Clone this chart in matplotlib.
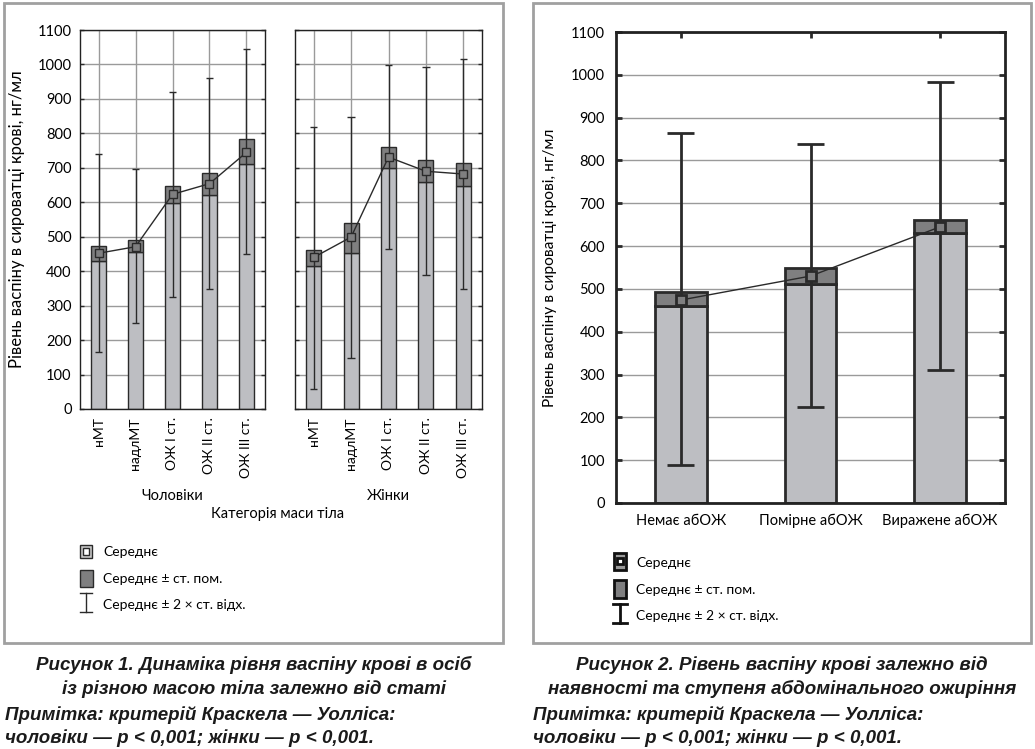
import numpy as np
import matplotlib
matplotlib.use("Agg")
import matplotlib.pyplot as plt
from matplotlib.patches import Rectangle

plt.rcParams['font.family'] = ['Lato', 'DejaVu Sans']

# ---------------- data ----------------
categories_fig1 = ["нМТ", "надлМТ", "ОЖ I ст.", "ОЖ II ст.", "ОЖ III ст."]
men_mean = [452, 471, 623, 654, 745]
men_se_lo = [431, 455, 597, 620, 710]
men_se_hi = [472, 491, 646, 684, 783]
men_sd_lo = [165, 249, 325, 348, 450]
men_sd_hi = [740, 696, 920, 960, 1044]

women_mean = [440, 499, 731, 690, 682]
women_se_lo = [414, 452, 699, 658, 646]
women_se_hi = [461, 539, 761, 722, 715]
women_sd_lo = [58, 148, 464, 388, 348]
women_sd_hi = [818, 847, 997, 992, 1016]

categories_fig2 = ["Немає абОЖ", "Помірне абОЖ", "Виражене абОЖ"]
ab_mean = [474, 530, 645]
ab_se_lo = [460, 511, 631]
ab_se_hi = [493, 550, 661]
ab_sd_lo = [88, 225, 311]
ab_sd_hi = [865, 838, 984]

yticks = list(range(0, 1101, 100))

LIGHT = "#bdbec2"
DARK = "#7f7f80"
EDGE = "#2a2a2a"
GRID = "#9a9a9a"

W, H = 1035, 749
fig = plt.figure(figsize=(W / 100, H / 100), dpi=100)


def px_axes(x0, y0, x1, y1):
    return fig.add_axes([x0 / W, 1 - y1 / H, (x1 - x0) / W, (y1 - y0) / H])


def draw_panel(ax, cats, mean, se_lo, se_hi, sd_lo, sd_hi, lw_box, cap_half, msize, mew, vgrid):
    x = np.arange(len(cats))
    se_lo = np.array(se_lo); se_hi = np.array(se_hi)
    ax.bar(x, se_lo, width=0.4, color=LIGHT, edgecolor=EDGE, linewidth=lw_box, zorder=2)
    ax.bar(x, se_hi - se_lo, bottom=se_lo, width=0.4, color=DARK, edgecolor=EDGE,
           linewidth=lw_box, zorder=3)
    ax.vlines(x, sd_lo, sd_hi, color=EDGE, linewidth=lw_box, zorder=4)
    ax.hlines(sd_lo, x - cap_half, x + cap_half, color=EDGE, linewidth=lw_box, zorder=4)
    ax.hlines(sd_hi, x - cap_half, x + cap_half, color=EDGE, linewidth=lw_box, zorder=4)
    ax.plot(x, mean, color=EDGE, linewidth=1.0, marker='s', markersize=msize,
            markerfacecolor=DARK, markeredgecolor=EDGE, markeredgewidth=mew, zorder=5)
    ax.set_xlim(-0.5, len(cats) - 0.5)
    ax.set_ylim(0, 1100)
    ax.set_yticks(yticks)
    ax.set_xticks(x)
    ax.grid(axis='y', color=GRID, linewidth=1.0, zorder=0)
    if vgrid:
        ax.grid(axis='x', color=GRID, linewidth=1.0, zorder=0)
    ax.set_axisbelow(True)


# ---------------- Figure 1 (left) ----------------
ax1 = px_axes(80, 30, 265, 409)
ax2 = px_axes(295, 30, 482, 409)
for ax, data in ((ax1, (men_mean, men_se_lo, men_se_hi, men_sd_lo, men_sd_hi)),
                 (ax2, (women_mean, women_se_lo, women_se_hi, women_sd_lo, women_sd_hi))):
    draw_panel(ax, categories_fig1, *data, lw_box=1.0, cap_half=0.1, msize=6, mew=1.0, vgrid=True)
    ax.set_xticklabels(categories_fig1, rotation=90, fontsize=10)
    ax.tick_params(axis='both', direction='in', length=3, width=1, colors=EDGE, labelcolor='black',
                   right=True, top=False, pad=6)
    for s in ax.spines.values():
        s.set_linewidth(1.0)
        s.set_color('#222222')
ax1.set_yticklabels([str(v) for v in yticks], fontsize=10.5)
ax2.tick_params(axis='y', labelleft=False)
ax1.set_ylabel("Рівень васпіну в сироватці крові, нг/мл", fontsize=12, labelpad=9)
ax1.set_xlabel("Чоловіки", fontsize=10.5, labelpad=8)
ax2.set_xlabel("Жінки", fontsize=10.5, labelpad=8)

# ---------------- Figure 2 (right) ----------------
ax3 = px_axes(616, 32, 1005, 503)
draw_panel(ax3, categories_fig2, ab_mean, ab_se_lo, ab_se_hi, ab_sd_lo, ab_sd_hi,
           lw_box=2.0, cap_half=0.105, msize=7, mew=2.0, vgrid=False)
ax3.set_xticklabels(categories_fig2, fontsize=10.5)
ax3.set_yticklabels([str(v) for v in yticks], fontsize=10.5)
ax3.tick_params(axis='both', direction='in', length=4, width=2, colors=EDGE, labelcolor='black',
                right=True, top=True, pad=8)
for s in ax3.spines.values():
    s.set_linewidth(2.0)
    s.set_color('#222222')
ax3.set_ylabel("Рівень васпіну в сироватці крові, нг/мл", fontsize=11.2, labelpad=10)

# ---------------- overlay: frames, legends, captions ----------------
ov = fig.add_axes([0, 0, 1, 1], zorder=-1)
ov.set_xlim(0, W)
ov.set_ylim(H, 0)
ov.axis('off')
ov2 = fig.add_axes([0, 0, 1, 1], zorder=10)
ov2.set_xlim(0, W)
ov2.set_ylim(H, 0)
ov2.axis('off')
ov2.patch.set_alpha(0)

ov.add_patch(Rectangle((4, 3), 499, 640, fill=False, edgecolor='#a0a0a0', linewidth=2))
ov.add_patch(Rectangle((533, 3), 498, 640, fill=False, edgecolor='#a0a0a0', linewidth=2))

ov2.text(278, 514, "Категорія маси тіла", ha='center', va='center', fontsize=10.5)

# left legend
ov2.add_patch(Rectangle((80, 545), 12, 13, facecolor='#c8c8c8', edgecolor=EDGE, linewidth=1))
ov2.add_patch(Rectangle((83, 548), 6, 7, facecolor='white', edgecolor=EDGE, linewidth=1))
ov2.add_patch(Rectangle((80, 570), 13, 17, facecolor=DARK, edgecolor=EDGE, linewidth=1))
ov2.plot([86, 86], [593, 612], color=EDGE, lw=1)
ov2.plot([80, 92], [593, 593], color=EDGE, lw=1)
ov2.plot([80, 92], [612, 612], color=EDGE, lw=1)
ov2.text(103, 552, "Середнє", va='center', fontsize=10)
ov2.text(103, 579, "Середнє ± ст. пом.", va='center', fontsize=10)
ov2.text(103, 605, "Середнє ± 2 × ст. відх.", va='center', fontsize=10)

# right legend
ov2.add_patch(Rectangle((614, 553), 12, 17, facecolor='#9a9a9a', edgecolor='#111111', linewidth=2))
ov2.add_patch(Rectangle((617, 558), 6, 6, facecolor='white', edgecolor='#111111', linewidth=2))
ov2.add_patch(Rectangle((614, 580), 12, 18, facecolor=DARK, edgecolor='#111111', linewidth=2))
ov2.plot([620, 620], [604, 623], color='#111111', lw=2)
ov2.plot([613, 627], [604, 604], color='#111111', lw=2)
ov2.plot([613, 627], [623, 623], color='#111111', lw=2)
ov2.text(636, 563, "Середнє", va='center', fontsize=10)
ov2.text(636, 590, "Середнє ± ст. пом.", va='center', fontsize=10)
ov2.text(636, 616, "Середнє ± 2 × ст. відх.", va='center', fontsize=10)

# captions
cap = dict(fontsize=13.5, fontweight='bold', fontstyle='italic',
           family=['Liberation Sans', 'DejaVu Sans'], color='#1a1a1a')
ov2.text(254, 665, "Рисунок 1. Динаміка рівня васпіну крові в осіб", ha='center', va='center', **cap)
ov2.text(254, 689, "із різною масою тіла залежно від статі", ha='center', va='center', **cap)
ov2.text(5, 715, "Примітка: критерій Краскела — Уолліса:", ha='left', va='center', **cap)
ov2.text(5, 738, "чоловіки — р < 0,001; жінки — р < 0,001.", ha='left', va='center', **cap)
ov2.text(782, 665, "Рисунок 2. Рівень васпіну крові залежно від", ha='center', va='center', **cap)
ov2.text(782, 689, "наявності та ступеня абдомінального ожиріння", ha='center', va='center', **cap)
ov2.text(533, 715, "Примітка: критерій Краскела — Уолліса:", ha='left', va='center', **cap)
ov2.text(533, 738, "чоловіки — р < 0,001; жінки — р < 0,001.", ha='left', va='center', **cap)

fig.savefig("out.png", dpi=100)
